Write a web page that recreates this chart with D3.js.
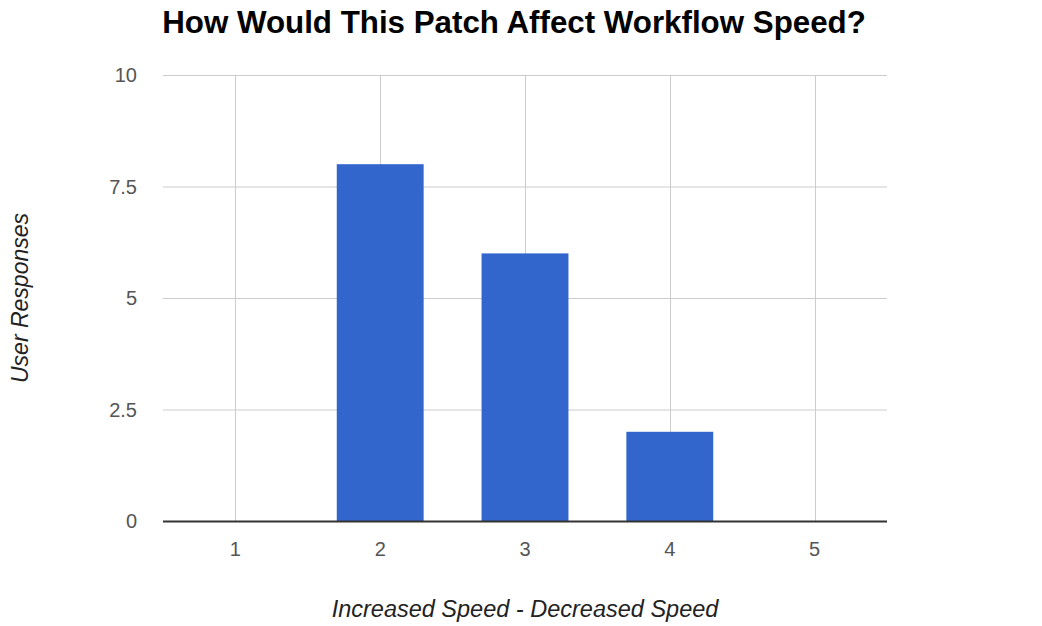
<!DOCTYPE html>
<html>
<head>
<meta charset="utf-8">
<script src="https://cdn.jsdelivr.net/npm/d3@7"></script>
<style>
  body { margin: 0; background: #fff; }
  svg { display: block; font-family: "Liberation Sans", Arial, sans-serif; }
</style>
</head>
<body>
<div id="chart"></div>
<script>
// data
var categories = ["1", "2", "3", "4", "5"];
var responses = [0, 8, 6, 2, 0];
var yTicks = [0, 2.5, 5, 7.5, 10];
var yTickLabels = ["0", "2.5", "5", "7.5", "10"];

var width = 1042, height = 626;
var margin = { left: 163, right: 155, top: 75, bottom: 105 };
var plotW = width - margin.left - margin.right;
var plotH = height - margin.top - margin.bottom;

var data = categories.map(function(c, i) {
  return { cat: c, value: responses[i] };
});

var svg = d3.select("#chart")
  .append("svg")
  .attr("width", width)
  .attr("height", height);

var x_scale = d3.scaleBand()
  .domain(categories)
  .range([0, plotW])
  .paddingInner(0.4)
  .paddingOuter(0.2);

var y_scale = d3.scaleLinear()
  .domain([0, 10])
  .range([plotH, 0]);

var g = svg.append("g")
  .attr("transform", "translate(" + margin.left + "," + margin.top + ")");

// horizontal gridlines
g.selectAll(".hgrid")
  .data(yTicks)
  .enter()
  .append("line")
  .attr("class", "hgrid")
  .attr("x1", 0)
  .attr("x2", plotW)
  .attr("y1", function(d) { return y_scale(d) + 0.5; })
  .attr("y2", function(d) { return y_scale(d) + 0.5; })
  .attr("stroke", "#cccccc")
  .attr("stroke-width", 1);

// vertical gridlines at category centers
g.selectAll(".vgrid")
  .data(categories)
  .enter()
  .append("line")
  .attr("class", "vgrid")
  .attr("x1", function(d) { return Math.round(x_scale(d) + x_scale.bandwidth() / 2) + 0.5; })
  .attr("x2", function(d) { return Math.round(x_scale(d) + x_scale.bandwidth() / 2) + 0.5; })
  .attr("y1", 0)
  .attr("y2", plotH)
  .attr("stroke", "#cccccc")
  .attr("stroke-width", 1);

// bars
g.selectAll("rect")
  .data(data)
  .enter()
  .append("rect")
  .attr("x", function(d) { return x_scale(d.cat); })
  .attr("y", function(d) { return y_scale(d.value); })
  .attr("width", x_scale.bandwidth())
  .attr("height", function(d) { return plotH - y_scale(d.value); })
  .attr("fill", "#3366cc");

// baseline
g.append("line")
  .attr("x1", 0)
  .attr("x2", plotW)
  .attr("y1", plotH + 0.5)
  .attr("y2", plotH + 0.5)
  .attr("stroke", "#333333")
  .attr("stroke-width", 2);

// y tick labels
g.selectAll(".ylab")
  .data(yTicks)
  .enter()
  .append("text")
  .attr("class", "ylab")
  .attr("x", -26)
  .attr("y", function(d) { return y_scale(d); })
  .attr("dy", "0.35em")
  .attr("text-anchor", "end")
  .attr("font-size", 20)
  .attr("fill", "#555555")
  .text(function(d, i) { return yTickLabels[i]; });

// x tick labels
g.selectAll(".xlab")
  .data(categories)
  .enter()
  .append("text")
  .attr("class", "xlab")
  .attr("x", function(d) { return x_scale(d) + x_scale.bandwidth() / 2; })
  .attr("y", plotH + 35)
  .attr("text-anchor", "middle")
  .attr("font-size", 20)
  .attr("fill", "#555555")
  .text(function(d) { return d; });

// title
svg.append("text")
  .attr("x", 514)
  .attr("y", 33)
  .attr("text-anchor", "middle")
  .attr("font-size", 31.3)
  .attr("font-weight", "bold")
  .attr("fill", "#000")
  .text("How Would This Patch Affect Workflow Speed?");

// axis titles
svg.append("text")
  .attr("x", 525)
  .attr("y", 617)
  .attr("text-anchor", "middle")
  .attr("font-size", 23.5)
  .attr("font-style", "italic")
  .attr("fill", "#222")
  .text("Increased Speed - Decreased Speed");

svg.append("text")
  .attr("transform", "translate(28," + (margin.top + plotH / 2) + ") rotate(-90)")
  .attr("text-anchor", "middle")
  .attr("font-size", 23)
  .attr("font-style", "italic")
  .attr("fill", "#222")
  .text("User Responses");
</script>
</body>
</html>
